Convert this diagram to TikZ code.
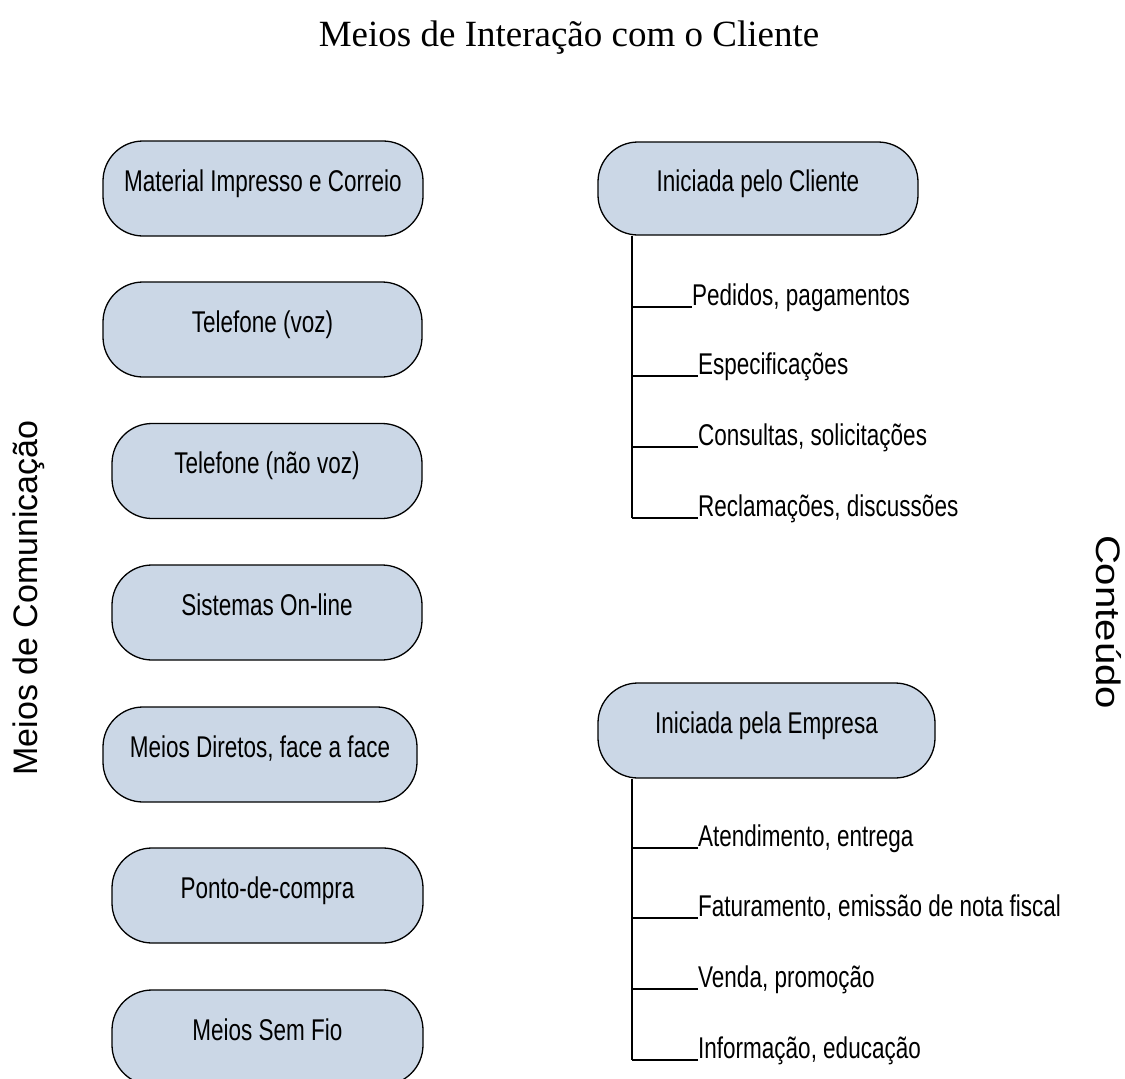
\documentclass[tikz,border=0pt]{standalone}
\usepackage{fontspec}
\setmainfont{Liberation Serif}
\newfontfamily\narrowsans{Liberation Sans}[FakeStretch=0.75]
\newfontfamily\plainsans{Liberation Sans}
\newfontfamily\widesans{Liberation Sans}[FakeStretch=1.18]
\definecolor{boxfill}{RGB}{203,215,230}
\begin{document}
\begin{tikzpicture}[x=1pt,y=-1pt,
  channel/.style={draw=black, line width=1.3pt, fill=boxfill, rounded corners=40pt,
    minimum height=95pt, inner sep=0pt,
    font=\narrowsans\fontsize{30}{32}\selectfont, text height=21pt, text depth=16pt},
  item/.style={anchor=base west, inner sep=0pt, font=\narrowsans\fontsize{30}{32}\selectfont},
  stem/.style={line width=1.3pt},
  sidelabel/.style={inner sep=0pt, font=\plainsans\fontsize{34}{36}\selectfont}]
\path[use as bounding box, clip] (0,0) rectangle (1125,1079);

% title
\node[inner sep=0pt, anchor=base, font=\fontsize{37}{40}\selectfont] (title) at (569,46)
  {Meios de Interação com o Cliente};

% side labels
\node[sidelabel, rotate=90] (left) at (29,598) {Meios de Comunicação};
\node[sidelabel, font=\widesans\fontsize{34}{36}\selectfont, rotate=-90] (right) at (1109,622) {Conteúdo};

% communication channels
\node[channel, minimum width=320pt] (c1) at (263,188.5) {Material Impresso e Correio};
\node[channel, minimum width=319pt] (c2) at (262.5,329.5) {Telefone (voz)};
\node[channel, minimum width=310pt] (c3) at (267,471) {Telefone (não voz)};
\node[channel, minimum width=310pt] (c4) at (267,612.5) {Sistemas On-line};
\node[channel, minimum width=314pt] (c5) at (260,754.5) {Meios Diretos, face a face};
\node[channel, minimum width=311pt] (c6) at (267.5,895.5) {Ponto-de-compra};
\node[channel, minimum width=311pt] (c7) at (267.5,1037.5) {Meios Sem Fio};

% initiated by the customer
\node[channel, minimum width=320pt, minimum height=93pt] (cli) at (758,188.5) {Iniciada pelo Cliente};
\coordinate (t1) at (632,518);
\node[item] (p1) at (692,305) {Pedidos, pagamentos};
\node[item] (p2) at (698,374) {Especificações};
\node[item] (p3) at (698,445) {Consultas, solicitações};
\node[item] (p4) at (698,516) {Reclamações, discussões};
\draw[stem] (cli.south -| t1) -- (t1);
\foreach \n in {p1,p2,p3,p4}
  \draw[stem] ([yshift=-2pt]\n.base west) -- ([yshift=-2pt]\n.base west -| t1);

% initiated by the company
\node[channel, minimum width=337pt] (emp) at (766.5,730.5) {Iniciada pela Empresa};
\coordinate (t2) at (632,1060);
\node[item] (q1) at (698,846) {Atendimento, entrega};
\node[item] (q2) at (698,916) {Faturamento, emissão de nota fiscal};
\node[item] (q3) at (698,987) {Venda, promoção};
\node[item] (q4) at (698,1058) {Informação, educação};
\draw[stem] (emp.south -| t2) -- (t2);
\foreach \n in {q1,q2,q3,q4}
  \draw[stem] ([yshift=-2pt]\n.base west) -- ([yshift=-2pt]\n.base west -| t2);
\end{tikzpicture}
\end{document}
